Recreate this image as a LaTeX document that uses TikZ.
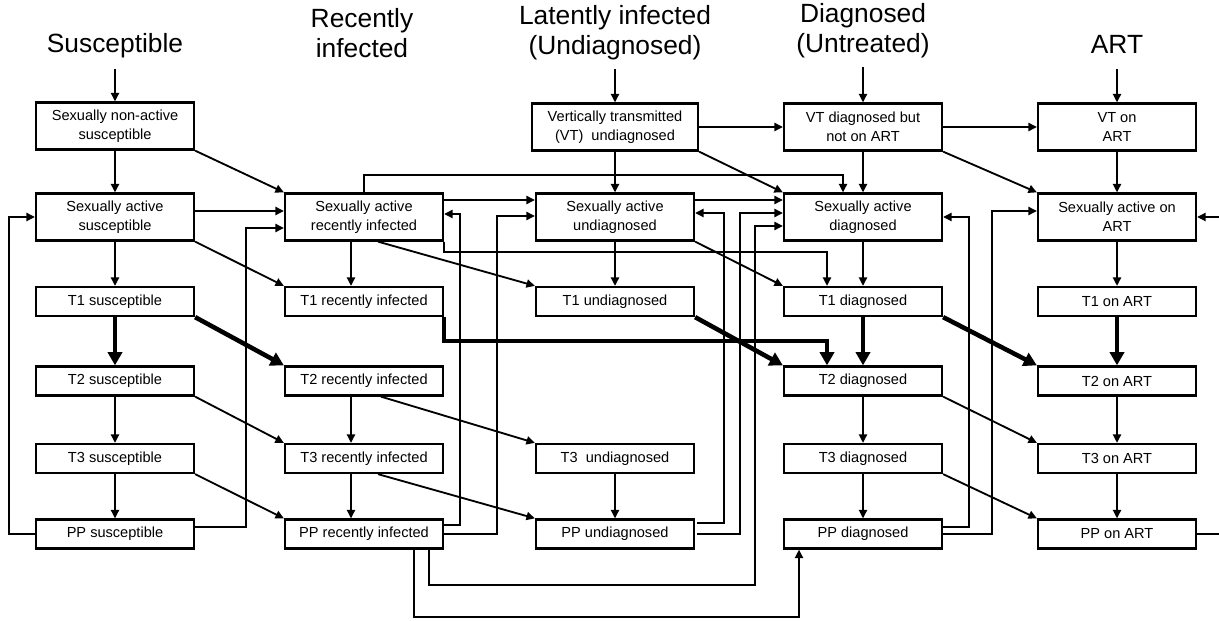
\documentclass[tikz,border=0pt]{standalone}
\usepackage{fontspec}
\setmainfont{Liberation Sans}
\usetikzlibrary{arrows.meta,calc}

\begin{document}
\begin{tikzpicture}[x=0.02cm,y=-0.02cm,
    flow/.style={line width=1.05pt,-{Triangle[length=4.8pt,width=4.6pt]}},
    bigflow/.style={line width=2.6pt,-{Triangle[length=7.5pt,width=8pt]}},
    heading/.style={font=\fontsize{15}{17}\selectfont,align=center,inner sep=2pt}]
    \tikzstyle{compartment}=[draw,line width=1.3pt,align=center,inner sep=0pt,
        minimum width=3.16cm,font=\fontsize{8.3}{10.8}\selectfont]
    \tikzstyle{twoline}=[compartment,minimum height=0.94cm]
    \tikzstyle{oneline}=[compartment,minimum height=0.58cm]

    \useasboundingbox (0,0) rectangle (1219,621);

    \node[heading] (hsus) at (115,46) {Susceptible};
    \node[heading] (hrec) at (362,33) {Recently\\infected};
    \node[heading] (hlat) at (615,33) {Latently infected\\(Undiagnosed)};
    \node[heading] (hdia) at (863,31) {Diagnosed\\(Untreated)};
    \node[heading] (hart) at (1117,44) {ART};

    \node[twoline] (sna) at (115,126) {Sexually non-active\\susceptible};
    \node[twoline] (sas) at (115,217) {Sexually active\\susceptible};
    \node[oneline] (t1s) at (115,301.5) {T1 susceptible};
    \node[oneline] (t2s) at (115,381) {T2 susceptible};
    \node[oneline] (t3s) at (115,458.5) {T3 susceptible};
    \node[oneline] (pps) at (115,534) {PP susceptible};

    \node[twoline] (sari) at (364,217) {Sexually active\\recently infected};
    \node[oneline] (t1ri) at (364,301.5) {T1 recently infected};
    \node[oneline] (t2ri) at (364,381) {T2 recently infected};
    \node[oneline] (t3ri) at (364,458.5) {T3 recently infected};
    \node[oneline] (ppri) at (364,534) {PP recently infected};

    \node[twoline,minimum width=3.32cm] (vtu) at (615,127) {Vertically transmitted\\(VT)\ \ undiagnosed};
    \node[twoline] (sau) at (615,217) {Sexually active\\undiagnosed};
    \node[oneline] (t1u) at (615,301.5) {T1 undiagnosed};
    \node[oneline] (t3u) at (615,458.5) {T3\ \ undiagnosed};
    \node[oneline] (ppu) at (615,534) {PP undiagnosed};

    \node[twoline] (vtd) at (863,127) {VT diagnosed but\\not on ART};
    \node[twoline] (sad) at (863,217) {Sexually active\\diagnosed};
    \node[oneline] (t1d) at (863,301.5) {T1 diagnosed};
    \node[oneline] (t2d) at (863,381) {T2 diagnosed};
    \node[oneline] (t3d) at (863,458.5) {T3 diagnosed};
    \node[oneline] (ppd) at (863,534) {PP diagnosed};

    \node[twoline] (vta) at (1117,127) {VT on\\ART};
    \node[twoline] (saa) at (1117,217) {Sexually active on\\ART};
    \node[oneline] (t1a) at (1117,301.5) {T1 on ART};
    \node[oneline] (t2a) at (1117,381) {T2 on ART};
    \node[oneline] (t3a) at (1117,458.5) {T3 on ART};
    \node[oneline] (ppa) at (1117,534) {PP on ART};

    \draw[flow,shorten <=4pt] (hsus) -- (sna);
    \draw[flow] (sna) -- (sas);
    \draw[flow] (sna.south east) -- (sari.north west);
    \draw[flow] ($(sas.east)+(0,-6)$) -- ($(sari.west)+(0,-6)$);
    \draw[flow] (sas) -- (t1s);
    \draw[flow] (sas.south east) -- (t1ri.north west);
    \draw[bigflow] (t1s) -- (t2s);
    \draw[bigflow] (t1s.south east) -- (t2ri.north west);
    \draw[flow] (t2s) -- (t3s);
    \draw[flow] (t2s.south east) -- (t3ri.north west);
    \draw[flow] (t3s) -- (pps);
    \draw[flow] (t3s.south east) -- (ppri.north west);
    \draw[flow] (pps.west) -- ++(-26,0) |- (sas.west);
    \draw[flow] ($(pps.east)+(0,-7)$) -- ++(51,0) |- ($(sari.west)+(0,11)$);

    \draw[flow] ($(sari.south)+(-13,0)$) -- ($(t1ri.north)+(-13,0)$);
    \draw[flow] (sari.north) -- ++(0,-17) -| ($(sad.north)+(-20,0)$);
    \draw[flow] ($(sari.east)+(0,-17)$) -- ($(sau.west)+(0,-17)$);
    \draw[flow] (sari.south east) -- ++(0,10) -| ($(t1d.north)+(-36,0)$);
    \draw[flow] ($(sari.south)+(14,0)$) -- (t1u.north west);
    \draw[bigflow] (t1ri.south east) -- ++(0,24) -| ($(t2d.north)+(-36,0)$);
    \draw[flow] ($(t2ri.south)+(-13,0)$) -- ($(t3ri.north)+(-13,0)$);
    \draw[flow] ($(t2ri.south)+(17,0)$) -- (t3u.north west);
    \draw[flow] ($(t3ri.south)+(-13,0)$) -- ($(ppri.north)+(-13,0)$);
    \draw[flow] ($(t3ri.south)+(14,0)$) -- (ppu.north west);
    \draw[flow] ($(ppri.east)+(0,-9)$) -- ++(16,0) |- ($(sari.east)+(0,-3)$);
    \draw[flow] (ppri.east) -- ++(53,0) |- ($(sau.west)+(0,-1)$);
    \draw[flow] ($(ppri.south)+(65,0)$) -- ++(0,35) -- ++(326,0) |- ($(sad.west)+(0,9)$);
    \draw[flow] ($(ppri.south)+(50,0)$) -- ++(0,67) -| ($(ppd.south)+(-64,0)$);

    \draw[flow,shorten <=3pt] (hlat) -- (vtu);
    \draw[flow] (vtu) -- (sau);
    \draw[flow] (vtu) -- (vtd);
    \draw[flow] (vtu.south east) -- (sad.north west);
    \draw[flow] ($(sau.east)+(0,-17)$) -- ($(sad.west)+(0,-17)$);
    \draw[flow] (sau) -- (t1u);
    \draw[flow] (sau.south east) -- (t1d.north west);
    \draw[bigflow] (t1u.south east) -- (t2d.north west);
    \draw[flow] (t3u) -- (ppu);
    \draw[flow] ($(ppu.east)+(2,-11)$) -- ++(27,0) |- ($(sau.east)+(0,-4)$);
    \draw[flow] ($(ppu.east)+(2,0)$) -- ++(43,0) |- ($(sad.west)+(0,-4)$);

    \draw[flow,shorten <=3pt] (hdia) -- (vtd);
    \draw[flow] (vtd) -- (sad);
    \draw[flow] (vtd) -- (vta);
    \draw[flow] (vtd.south east) -- (saa.north west);
    \draw[flow] (sad) -- (t1d);
    \draw[bigflow] (t1d) -- (t2d);
    \draw[bigflow] (t1d.south east) -- (t2a.north west);
    \draw[flow] (t2d) -- (t3d);
    \draw[flow] (t2d.south east) -- (t3a.north west);
    \draw[flow] (t3d) -- (ppd);
    \draw[flow] (t3d.south east) -- (ppa.north west);
    \draw[flow] ($(ppd.east)+(0,-7)$) -- ++(26,0) |- (sad.east);
    \draw[flow] (ppd.east) -- ++(49,0) |- ($(saa.west)+(0,-6)$);

    \draw[flow,shorten <=7pt] (hart) -- (vta);
    \draw[flow] (vta) -- (saa);
    \draw[flow] (saa) -- (t1a);
    \draw[bigflow] (t1a) -- (t2a);
    \draw[flow] (t2a) -- (t3a);
    \draw[flow] (t3a) -- (ppa);
    \draw[flow] (ppa.east) -- ++(30,0) |- (saa.east);

\end{tikzpicture}
\end{document}
